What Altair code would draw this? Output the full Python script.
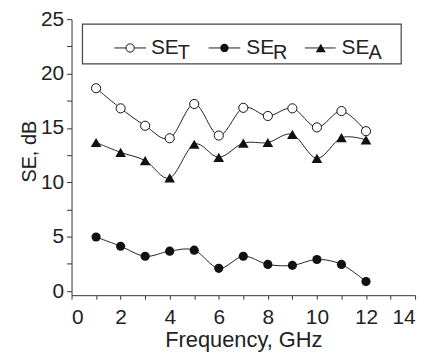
import altair as alt
import pandas as pd

freq = [1, 2, 3, 4, 5, 6, 7, 8, 9, 10, 11, 12]
se_t = [18.65, 16.8, 15.2, 14.05, 17.2, 14.3, 16.85, 16.1, 16.8, 15.05, 16.55, 14.7]
se_r = [4.97, 4.12, 3.2, 3.67, 3.76, 2.09, 3.2, 2.45, 2.36, 2.9, 2.45, 0.88]
se_a = [13.66, 12.75, 12.0, 10.4, 13.5, 12.3, 13.6, 13.66, 14.4, 12.2, 14.1, 13.9]

x_ticks = list(range(0, 15))
y_ticks = [0, 2.5, 5, 7.5, 10, 12.5, 15, 17.5, 20, 22.5, 25]

FONT = "Liberation Sans"

df = pd.DataFrame({"f": freq, "T": se_t, "R": se_r, "A": se_a})

xs = alt.Scale(domain=[0, 14], nice=False, zero=False)
ys = alt.Scale(domain=[-0.38, 25], nice=False, zero=False)

xax = alt.Axis(values=x_ticks, labelExpr="datum.value % 2 == 0 ? datum.label : ''",
               title="Frequency, GHz", grid=False, tickSize=4, labelPadding=8,
               labelFontSize=21, titleFontSize=22, titlePadding=2, labelFont=FONT,
               titleFont=FONT, titleFontWeight="normal", domainColor="#333", tickColor="#333",
               labelColor="#222", titleColor="#222")
yax = alt.Axis(values=y_ticks, labelExpr="datum.value % 5 == 0 ? datum.label : ''",
               title="SE, dB", grid=False, tickSize=5, labelPadding=3,
               labelFontSize=21, titleFontSize=20, titlePadding=1, titleY=133, labelFont=FONT,
               titleFont=FONT, titleFontWeight="normal", domainColor="#333", tickColor="#333",
               labelColor="#222", titleColor="#222")

base = alt.Chart(df)
layers = []
specs = [("T", "circle", False), ("R", "circle", True), ("A", "triangle-up", True)]
for col, shape, filled in specs:
    x_enc = alt.X("f:Q", scale=xs, axis=xax)
    y_enc = alt.Y(f"{col}:Q", scale=ys, axis=yax)
    line = base.mark_line(interpolate="cardinal", color="#222", strokeWidth=1).encode(x=x_enc, y=y_enc)
    pt = base.mark_point(shape=shape, filled=filled, size=85 if shape == "circle" else 115,
                         color="#111", fill="#111" if filled else "white", strokeWidth=1,
                         opacity=1).encode(x=x_enc, y=y_enc)
    layers += [line, pt]

# legend
one = alt.Chart(alt.Data(values=[{}]))
legend = [
    one.mark_rect(fill="white", stroke="#444", strokeWidth=1.2).encode(
        x=alt.value(11), x2=alt.value(332), y=alt.value(5), y2=alt.value(45)),
]
entries = [(43, 75, 59, 80, "T", "circle", False),
           (138, 170, 154, 176, "R", "circle", True),
           (235, 266, 251, 272, "A", "triangle-up", True)]
for x1, x2, xm, xt, sub, shape, filled in entries:
    legend.append(one.mark_rule(color="#222", strokeWidth=1).encode(
        x=alt.value(x1), x2=alt.value(x2), y=alt.value(29)))
    legend.append(one.mark_point(shape=shape, filled=filled, size=70 if shape == "circle" else 100,
                                 color="#111", fill="#111" if filled else "white", strokeWidth=1,
                                 opacity=1).encode(x=alt.value(xm), y=alt.value(29)))
    legend.append(one.mark_text(text="SE", font=FONT, fontSize=21, align="left", baseline="alphabetic",
                                color="#222").encode(x=alt.value(xt), y=alt.value(35)))
    legend.append(one.mark_text(text=sub, font=FONT, fontSize=20, align="left", baseline="alphabetic",
                                color="#222").encode(x=alt.value(xt + 27), y=alt.value(40)))

chart = alt.layer(*layers, *legend).properties(
    width=346, height=278,
    autosize=alt.AutoSizeParams(type="none"),
    padding={"left": 64, "top": 10, "right": 10, "bottom": 60},
).configure_view(stroke=None)

chart.save("out.html", embed_options={"renderer": "svg", "actions": False})
